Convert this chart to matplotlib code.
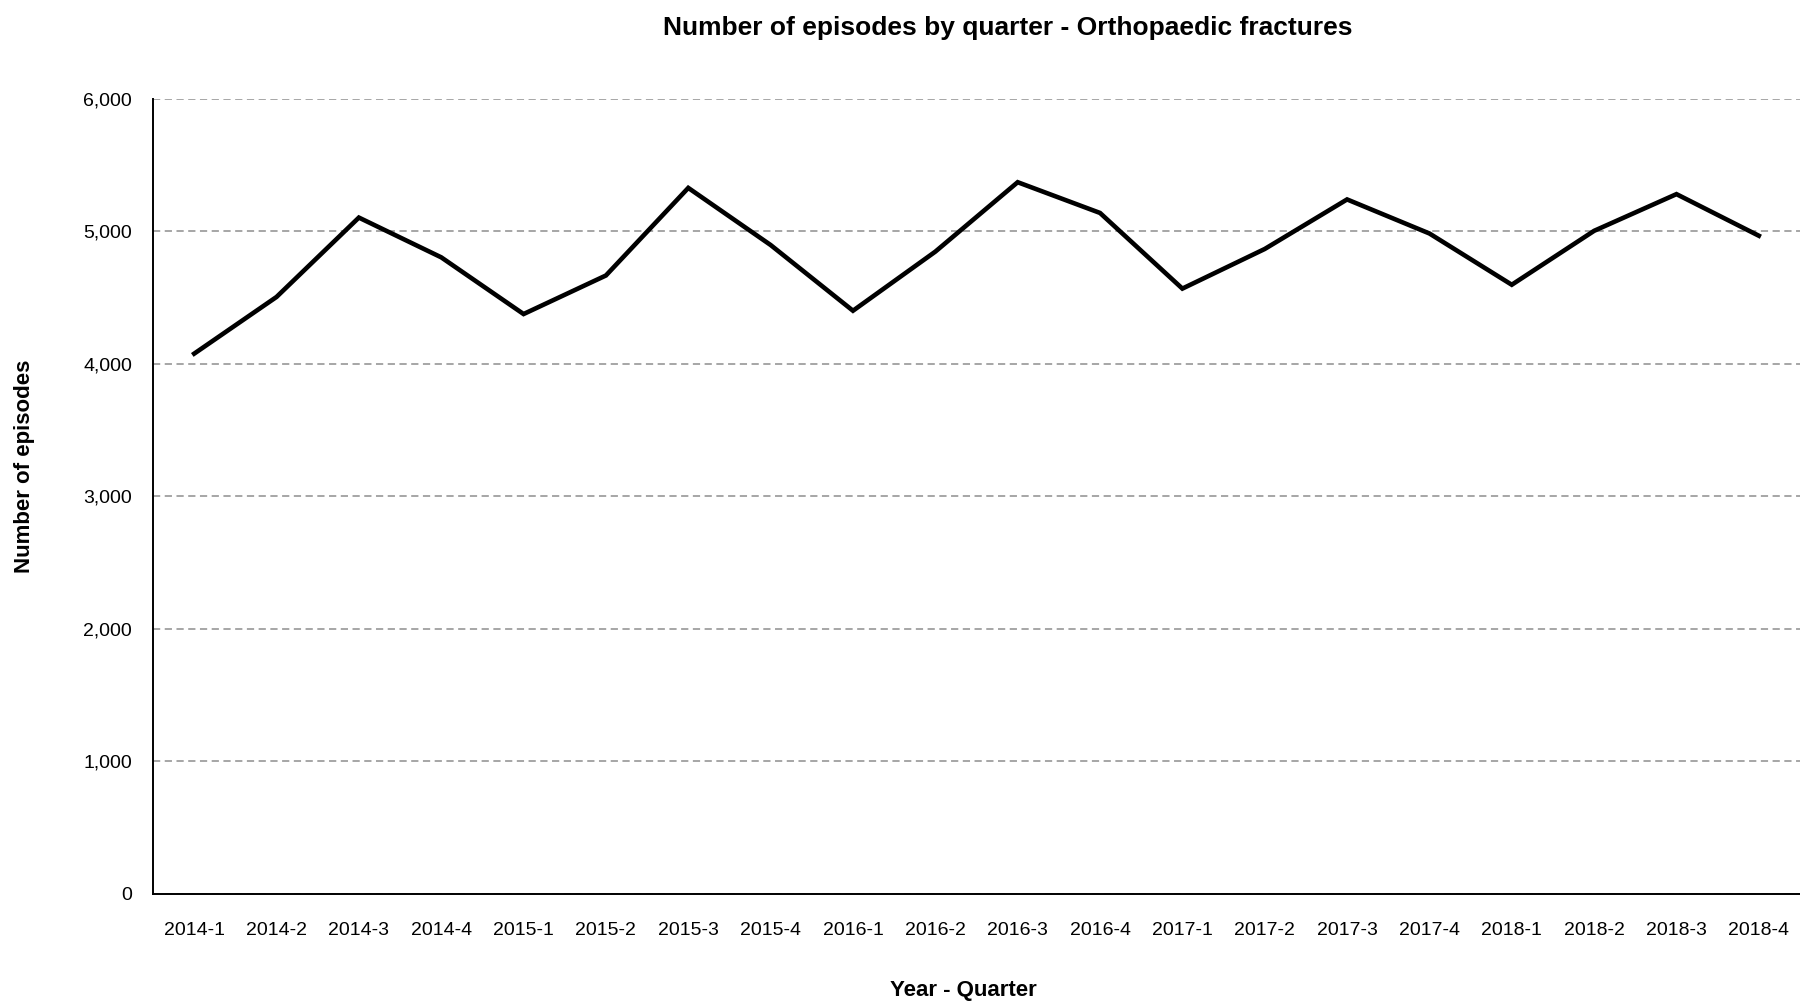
import matplotlib.pyplot as plt
from matplotlib.ticker import FuncFormatter

quarters = ["2014-1", "2014-2", "2014-3", "2014-4",
            "2015-1", "2015-2", "2015-3", "2015-4",
            "2016-1", "2016-2", "2016-3", "2016-4",
            "2017-1", "2017-2", "2017-3", "2017-4",
            "2018-1", "2018-2", "2018-3", "2018-4"]
episodes = [4078, 4506, 5105, 4805,
            4377, 4668, 5329, 4898,
            4402, 4848, 5372, 5140,
            4569, 4868, 5242, 4985,
            4598, 5005, 5282, 4968]
yticks = [0, 1000, 2000, 3000, 4000, 5000, 6000]

plt.rcParams["font.family"] = ["Liberation Sans Narrow", "Liberation Sans", "DejaVu Sans"]

fig = plt.figure(figsize=(18, 10.02), dpi=100)
ax = fig.add_axes([0.085, 0.1078, 0.915, 0.7934])

x = range(len(quarters))
ax.plot(x, episodes, color="black", linewidth=3.3, solid_joinstyle="miter")

ax.set_xlim(-0.5, len(quarters) - 0.5)
ax.set_ylim(0, 6000)
ax.set_xticks(list(x))
ax.set_xticklabels(quarters)
ax.set_yticks(yticks)
ax.yaxis.set_major_formatter(FuncFormatter(lambda v, p: f"{int(v):,}"))
ax.tick_params(axis="both", length=0, labelsize=14)
ax.tick_params(axis="x", pad=20)
ax.tick_params(axis="y", pad=15)

ax.grid(axis="y", color="#9f9f9f", linestyle=(0, (4, 2.5)), linewidth=1.3)
ax.set_axisbelow(True)
for side in ["top", "right"]:
    ax.spines[side].set_visible(False)
for side in ["left", "bottom"]:
    ax.spines[side].set_linewidth(1.4)
    ax.spines[side].set_color("black")

fig.text(0.56, 0.972, "Number of episodes by quarter - Orthopaedic fractures",
         ha="center", va="center", fontsize=19, fontweight="bold")
fig.text(0.535, 0.011, "Year - Quarter", ha="center", va="center",
         fontsize=16, fontweight="bold")
fig.text(0.0135, 0.535, "Number of episodes", ha="center", va="center",
         rotation=90, fontsize=16, fontweight="bold")

fig.savefig("out.png", dpi=100)
